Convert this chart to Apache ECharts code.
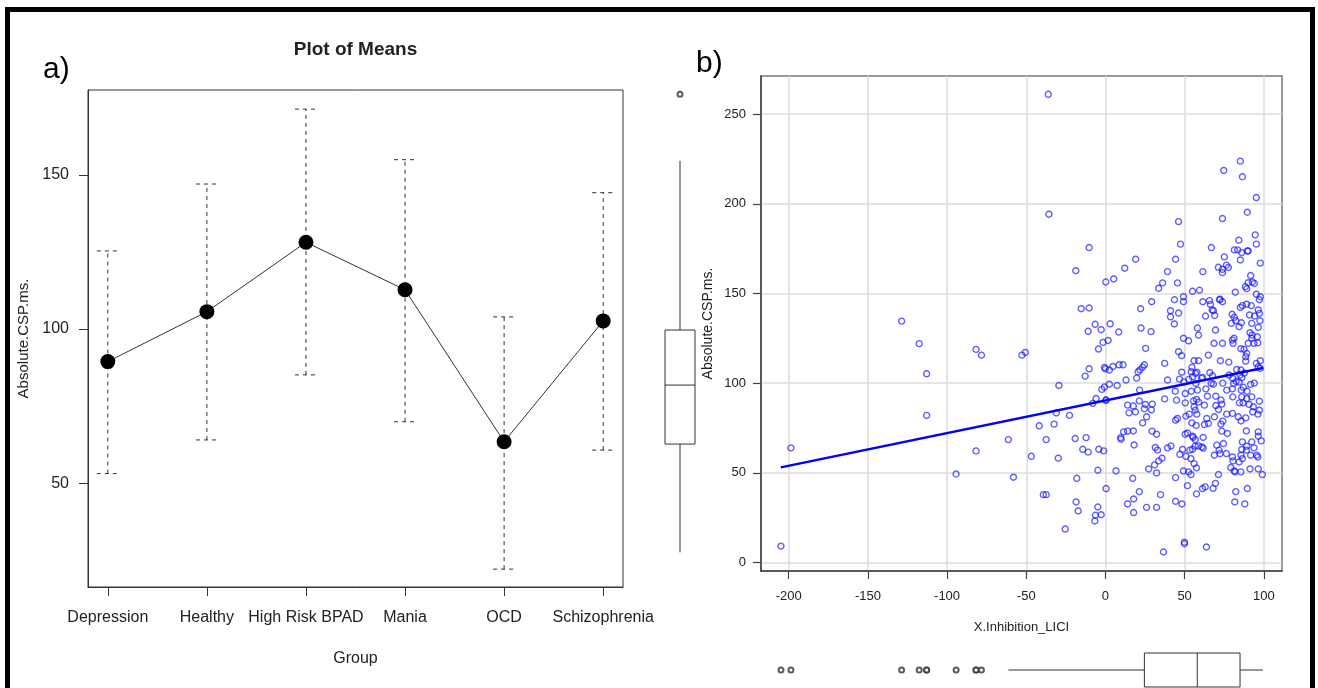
<!DOCTYPE html>
<html>
<head>
<meta charset="utf-8">
<script src="https://cdn.jsdelivr.net/npm/echarts@6/dist/echarts.min.js"></script>
<style>
  html, body { margin: 0; padding: 0; background: #fff; }
  #chart { width: 1318px; height: 688px; }
</style>
</head>
<body>
<div id="chart"></div>
<script>
// ---- a) Plot of means: group means with their interval bounds ----
const groups = ['Depression', 'Healthy', 'High Risk BPAD', 'Mania', 'OCD', 'Schizophrenia'];
const groupMeans = [89.4, 105.6, 128.1, 112.7, 63.4, 102.6];
const groupUpper = [125.3, 147.0, 171.3, 154.9, 103.9, 144.2];
const groupLower = [53.1, 64.0, 85.1, 69.9, 22.1, 60.7];
const meansYTicks = [50, 100, 150];

// ---- b) Scatter of % inhibition (LICI) against absolute CSP (ms) ----
const liciVsCsp = [
  [-128.7,134.6],[-117.6,122],[-112.9,105.2],[-112.9,82],[-81.7,118.8],[-78.3,115.6],[-81.7,62.2],[-94.3,49.3],[-198.6,63.9],[-204.9,9.1],
  [-52.7,115.6],[-50.6,117.1],[-61.3,68.5],[-58.1,47.5],[-46.8,59.2],[-41.8,76.2],[-37.4,68.5],[-32.4,77.1],[-29.8,58.1],[-39.2,37.8],[-37.4,37.8],[-31,83.4],[-29.4,98.7],
  [-36.1,261.1],[-35.7,194.2],[-10.3,175.6],[-18.7,162.7],[19.1,169.1],[12.2,164.1],[0.2,156.4],[5.2,158.1],[-15.3,141.5],[-10.3,141.9],
  [22.2,141.5],[29.2,145.4],[33.6,152.9],[36.1,155.9],[39.2,162.2],[44.3,169.1],[46.2,190.1],[47.4,177.5],[45.5,155.9],[43.6,146.5],
  [49.3,148.2],[49.3,145.4],[41.1,140.4],[41.1,137],[46.2,139.1],[55,151.2],[59.4,151.8],[61.5,162.2],[66.9,175.6],[73.9,191.8],
  [74.7,218.6],[85.2,223.8],[86.5,215.1],[95.3,203.5],[89.6,195.3],[94.6,182.7],[95.3,177.5],[84.2,179.7],[81.4,174.3],[83.5,174.3],
  [89.6,173.7],[90.2,173.7],[86,172.8],[75.1,170.4],[85.2,168.7],[97.8,166.9],[71.3,164.6],[73.9,163.5],[73.9,161.6],[76.4,165.8],
  [77.6,164.5],[61.5,145.4],[65.7,146],[66.3,143.9],[67.4,140.8],[68.2,140.4],[72,146.5],[72.4,146.8],[73.9,145.4],[63.2,137.4],
  [69,137.8],[82,150.7],[91.7,160],[88.4,153.8],[89.2,152.7],[90.2,156],[92.8,156.4],[94,155.6],[95.3,149.6],[97.8,148.2],
  [97.2,146.5],[85.2,142.2],[86.5,143.2],[89.2,144],[92.1,143.2],[96.5,140.8],[91,138],[94.2,137.4],[97.2,138.9],[80,138.4],[81.4,136.7],
  [-6.5,132.8],[3,133.1],[-10.9,128.9],[-2.7,129.8],[8.4,128.5],[-1.5,122.7],[1.7,123.8],[-4.4,119],[-10.3,108],[-12.8,103.9],
  [-0.6,108.8],[0,108],[2.5,107.3],[4.8,109.3],[8.6,110.2],[11.1,110.2],[-2.3,96.5],[-0.6,97.8],[2.5,99.4],[-5.9,91.4],
  [-8,88.7],[0.4,90.7],[0.2,90.3],[-22.7,82],[7.4,98.7],[13,101.7],[19.7,102.8],[20.6,106.3],[21.8,107.4],[23.5,108.9],
  [24.6,110.2],[21.6,96.1],[14,87.7],[17.6,87.2],[21.4,90.1],[25.2,88.1],[14.9,83.4],[18.9,84],[24.6,85.7],[29,85.1],
  [29.6,88.3],[26,81.2],[23.5,77.8],[37.4,91.2],[39.2,101.7],[37.4,111],[28.8,128.7],[22.5,130.7],[25.4,119.4],[43.5,133],
  [49.3,125],[52.5,123.6],[48.1,115.3],[46.2,117.5],[56,112.5],[58.8,112.5],[54.6,108.8],[54.2,106.3],[56.9,105.4],[55,103.5],
  [57.7,106.1],[48.2,106.1],[46.8,102.2],[49.5,100.7],[52.7,102.1],[57.1,99.8],[60.7,102.8],[44.1,95.5],[50.4,94.2],[54.2,95.5],
  [58.1,96.1],[63.4,96.8],[50.4,89],[44.9,90.5],[55.6,90.1],[57.5,90.9],[58.8,89.4],[56,86.8],[62.5,87.7],[64.4,92.7],
  [45.5,80.3],[44.3,79.3],[50.8,81.6],[52.9,82.7],[57.7,82.7],[54.6,77.8],[62.5,76.9],[64,80.3],[56.7,84.9],[65,115.6],
  [68.6,122.2],[73.9,122.2],[72.6,112.5],[77.9,111.7],[69.5,129.6],[58.8,126.8],[58.1,130.7],[65.9,105.8],[67.6,104.1],[61.3,103.2],
  [68.2,99.4],[66.8,99.8],[74.1,100],[76.6,96.1],[69.7,92.7],[73,90.5],[73.5,88.3],[69.7,87.5],[71.4,85.3],[68.8,81.2],
  [76.6,82.7],[74.1,78.8],[72.9,77.1],[80.2,96.8],[82.5,100.9],[80.4,102.6],[81,99.8],[85,104.5],[86.1,103],[85.6,107.3],
  [87.7,105.6],[84.4,100.6],[87.1,97.6],[85.8,96.1],[82.9,107.6],[78.1,104.5],[91.7,99.3],[94,100],[89.4,95.5],[92.4,92.3],
  [97.2,89.9],[93.4,86.8],[89.2,91.4],[86.1,92.3],[86.9,89],[90.7,88.1],[80.4,92.3],[84.6,89],[80.2,83.1],[83.9,81.2],
  [85.6,78.9],[93,84],[96.3,82.7],[97.2,84.9],[88.6,80.6],[97.8,112.5],[96.5,109.1],[95.3,111],[97.8,108.2],[88.6,112.3],
  [87.5,118.8],[85.5,119.2],[89.2,116.6],[88.6,114.7],[96.2,122.5],[93.8,122.2],[92.4,125],[90.2,122.2],[91.3,128.1],[92.6,126.8],
  [95.9,125.9],[96.5,131.1],[97.6,134.8],[92.4,133.3],[80.2,124],[80.6,122.2],[81.2,125],[84.4,131.5],[85.8,133.7],[79.5,133.3],
  [82.3,134.8],[65,77.5],[57.3,76.4],
  [-19.1,69.1],[-12.2,69.6],[-14.3,63.1],[-10.9,61.5],[-4.2,63.1],[-1.1,62.2],[9.6,69.6],[9.9,68.7],[11.5,72.8],[14,73.2],
  [17.6,73.3],[18.1,65.5],[-4.8,51.4],[6.7,51],[-18.1,46.9],[0.4,41.2],[-18.5,33.7],[-17.2,28.7],[-4.8,30.9],[-6.3,26.3],
  [-6.7,23.1],[-2.7,26.6],[-25.4,18.6],[17.2,46.9],[21.4,39.5],[17.8,35.4],[14,32.6],[17.8,27.8],[26,30.7],[32.3,30.7],
  [34.8,37.8],[27.3,52.1],[32.3,49.9],[31,54.4],[33.6,56.6],[35.7,58.1],[31.5,64.1],[32.9,62.6],[39.2,63.9],[41.4,65],
  [29.4,73.2],[32.3,71.5],[44.3,47.3],[44.3,34.1],[48.3,32.6],[36.7,5.8],[49.9,11.3],[49.9,10.4],[63.8,8.6],[51.8,42.8],
  [57.5,38.2],[49.3,51],[52.5,50.5],[54,49],[50.8,59.2],[54,57.9],[56,55.1],[57.5,52.7],[55,63.1],[56.7,64.8],
  [58.8,65],[60.9,64.4],[61.7,63.7],[53.3,62.6],[48.7,63],[47,60.3],[50.4,71.5],[51.8,72.2],[55.4,69.7],[56.7,68.5],
  [55,70.4],[61.7,69.7],[61.3,41.2],[63,42.1],[68,41.3],[69.5,44.1],[71.4,49],[70.3,65.4],[72.4,60.7],[74.5,66.3],
  [71.8,62.6],[76.4,60.7],[68.8,59.8],[73.5,73.2],[77,71.9],[79.2,52.9],[81.9,50.5],[81.3,51],[85.5,50.5],[80.2,58.8],
  [80.6,56.6],[84.4,56],[86.5,57.9],[86.1,63],[89,62.6],[92.4,67.2],[86.5,67.2],[89.2,64.8],[93.8,63.9],[85.6,59.8],
  [91.7,59.8],[96.2,58.8],[95.5,59.8],[89,73.3],[96.5,70.4],[96.5,72.8],[98.4,67.8],[91.3,52.1],[96.5,52.1],[99.1,49],
  [89.6,41.2],[82.3,39.5],[81.7,33.7],[88,32.6]
];
// least-squares line, drawn between its two end points
const fitLineX = [-205, 99.5];
const fitLineY = [53.0, 108.4];
// marginal boxplots: [lower whisker, Q1, median, Q3, upper whisker]
const cspBox = [5.6, 66.0, 98.9, 129.6, 224.0];
const cspOutliers = [261.1];
const liciBox = [-61.3, 24.6, 58.0, 85.0, 99.5];
const liciOutliers = [-204.9, -198.6, -128.7, -117.6, -112.9, -112.9, -94.3, -81.7, -81.7, -78.3];
const scatterXTicks = [-200, -150, -100, -50, 0, 50, 100];
const scatterYTicks = [0, 50, 100, 150, 200, 250];

const FONT = "'Liberation Sans', Arial, sans-serif";
const INK = '#222';

const chart = echarts.init(document.getElementById('chart'), null, { renderer: 'canvas' });

function errorBarItem(params, api) {
  const x = api.value(0);
  const lo = api.coord([x, api.value(1)]);
  const hi = api.coord([x, api.value(2)]);
  const cap = 11;
  const st = { stroke: '#333', lineWidth: 1, lineDash: [4, 4] };
  return {
    type: 'group',
    children: [
      { type: 'line', shape: { x1: lo[0], y1: lo[1], x2: hi[0], y2: hi[1] }, style: st },
      { type: 'line', shape: { x1: hi[0] - cap, y1: hi[1], x2: hi[0] + cap, y2: hi[1] }, style: st },
      { type: 'line', shape: { x1: lo[0] - cap, y1: lo[1], x2: lo[0] + cap, y2: lo[1] }, style: st }
    ]
  };
}

function boxItem(horizontal) {
  return function (params, api) {
    const c = api.value(0);
    const at = v => horizontal ? api.coord([v, c]) : api.coord([c, v]);
    const pMin = at(api.value(1)), pQ1 = at(api.value(2)), pMed = at(api.value(3)),
          pQ3 = at(api.value(4)), pMax = at(api.value(5));
    const hw = horizontal ? 17 : 15;
    const st = { stroke: '#333', lineWidth: 1 };
    if (!horizontal) {
      const x = pMed[0];
      return { type: 'group', children: [
        { type: 'line', shape: { x1: x, y1: pMin[1], x2: x, y2: pQ1[1] }, style: st },
        { type: 'line', shape: { x1: x, y1: pQ3[1], x2: x, y2: pMax[1] }, style: st },
        { type: 'rect', shape: { x: x - hw, y: pQ3[1], width: 2 * hw, height: pQ1[1] - pQ3[1] }, style: { fill: '#fff', stroke: '#333', lineWidth: 1 } },
        { type: 'line', shape: { x1: x - hw, y1: pMed[1], x2: x + hw, y2: pMed[1] }, style: st }
      ]};
    }
    const y = pMed[1];
    return { type: 'group', children: [
      { type: 'line', shape: { x1: pMin[0], y1: y, x2: pQ1[0], y2: y }, style: st },
      { type: 'line', shape: { x1: pQ3[0], y1: y, x2: pMax[0], y2: y }, style: st },
      { type: 'rect', shape: { x: pQ1[0], y: y - hw, width: pQ3[0] - pQ1[0], height: 2 * hw }, style: { fill: '#fff', stroke: '#333', lineWidth: 1 } },
      { type: 'line', shape: { x1: pMed[0], y1: y - hw, x2: pMed[0], y2: y + hw }, style: st }
    ]};
  };
}

const groupPositions = groups.map((g, i) => i + 1);
const scatterXRange = { min: -217.5, max: 111.5 };
const scatterYRange = { min: -4.8, max: 271.3 };

const option = {
  animation: false,
  backgroundColor: '#fff',
  grid: [
    { left: 88, top: 90, width: 535, height: 497, show: true, borderColor: '#333', borderWidth: 1, backgroundColor: 'transparent' },
    { left: 761, top: 76, width: 521, height: 495, show: true, borderColor: '#777', borderWidth: 1.5, backgroundColor: 'transparent' },
    { left: 660, top: 76, width: 40, height: 495 },
    { left: 761, top: 652, width: 521, height: 40 }
  ],
  xAxis: [
    {
      gridIndex: 0, type: 'value', min: 0.8, max: 6.2,
      axisLine: { show: true, lineStyle: { color: '#333', width: 1 } },
      axisTick: { show: true, customValues: groupPositions, length: 9, lineStyle: { color: '#333' } },
      axisLabel: { customValues: groupPositions, formatter: v => groups[Math.round(v) - 1], margin: 23,
                   fontFamily: FONT, fontSize: 16, color: INK },
      splitLine: { show: false },
      name: 'Group', nameLocation: 'middle', nameGap: 64,
      nameTextStyle: { fontFamily: FONT, fontSize: 16, color: INK }
    },
    {
      gridIndex: 1, type: 'value', min: scatterXRange.min, max: scatterXRange.max,
      axisLine: { show: true, onZero: false, lineStyle: { color: '#444', width: 1.5 } },
      axisTick: { show: true, customValues: scatterXTicks, length: 8, lineStyle: { color: '#444', width: 1.2 } },
      axisLabel: { customValues: scatterXTicks, margin: 19, fontFamily: FONT, fontSize: 13, color: INK },
      splitLine: { show: true, lineStyle: { color: '#dcdcdc', width: 1.5 } },
      name: 'X.Inhibition_LICI', nameLocation: 'middle', nameGap: 50,
      nameTextStyle: { fontFamily: FONT, fontSize: 13, color: INK }
    },
    { gridIndex: 2, type: 'value', min: -1, max: 1, show: false },
    { gridIndex: 3, type: 'value', min: scatterXRange.min, max: scatterXRange.max, show: false }
  ],
  yAxis: [
    {
      gridIndex: 0, type: 'value', min: 16.3, max: 177.5,
      axisLine: { show: true, lineStyle: { color: '#333', width: 1 } },
      axisTick: { show: true, customValues: meansYTicks, length: 9, lineStyle: { color: '#333' } },
      axisLabel: { customValues: meansYTicks, margin: 19, fontFamily: FONT, fontSize: 16, color: INK },
      splitLine: { show: false },
      name: 'Absolute.CSP.ms.', nameLocation: 'middle', nameGap: 57,
      nameTextStyle: { fontFamily: FONT, fontSize: 15, color: INK }
    },
    {
      gridIndex: 1, type: 'value', min: scatterYRange.min, max: scatterYRange.max,
      axisLine: { show: true, onZero: false, lineStyle: { color: '#444', width: 1.5 } },
      axisTick: { show: true, customValues: scatterYTicks, length: 8, lineStyle: { color: '#444', width: 1.2 } },
      axisLabel: { customValues: scatterYTicks, margin: 15, fontFamily: FONT, fontSize: 13, color: INK },
      splitLine: { show: true, lineStyle: { color: '#dcdcdc', width: 1.5 } },
      name: 'Absolute.CSP.ms.', nameLocation: 'middle', nameGap: 46,
      nameTextStyle: { fontFamily: FONT, fontSize: 14, color: INK }
    },
    { gridIndex: 2, type: 'value', min: scatterYRange.min, max: scatterYRange.max, show: false },
    { gridIndex: 3, type: 'value', min: -1, max: 1, show: false }
  ],
  series: [
    {
      type: 'custom', xAxisIndex: 0, yAxisIndex: 0,
      renderItem: errorBarItem,
      data: groups.map((g, i) => [i + 1, groupLower[i], groupUpper[i]]),
      z: 2
    },
    {
      type: 'line', xAxisIndex: 0, yAxisIndex: 0,
      data: groupMeans.map((m, i) => [i + 1, m]),
      symbol: 'circle', symbolSize: 15,
      itemStyle: { color: '#000' },
      lineStyle: { color: '#333', width: 1 },
      z: 3
    },
    {
      type: 'scatter', xAxisIndex: 1, yAxisIndex: 1,
      data: liciVsCsp,
      symbol: 'circle', symbolSize: 6,
      itemStyle: { color: 'rgba(0,0,0,0)', borderColor: 'rgba(20,20,255,0.85)', borderWidth: 1.4 },
      z: 3
    },
    {
      type: 'line', xAxisIndex: 1, yAxisIndex: 1,
      data: fitLineX.map((x, i) => [x, fitLineY[i]]),
      symbol: 'none',
      lineStyle: { color: '#0000ff', width: 2.5 },
      z: 4
    },
    {
      type: 'custom', xAxisIndex: 2, yAxisIndex: 2,
      renderItem: boxItem(false),
      data: [[0].concat(cspBox)]
    },
    {
      type: 'scatter', xAxisIndex: 2, yAxisIndex: 2,
      data: cspOutliers.map(v => [0, v]),
      symbol: 'emptyCircle', symbolSize: 5,
      itemStyle: { color: '#333', borderWidth: 1 }
    },
    {
      type: 'custom', xAxisIndex: 3, yAxisIndex: 3,
      renderItem: boxItem(true),
      data: [[0].concat(liciBox)]
    },
    {
      type: 'scatter', xAxisIndex: 3, yAxisIndex: 3,
      data: liciOutliers.map(v => [v, 0]),
      symbol: 'emptyCircle', symbolSize: 5,
      itemStyle: { color: '#333', borderWidth: 1 }
    }
  ],
  graphic: [
    {
      type: 'rect', silent: true, z: 100,
      shape: { x: 7.5, y: 9.5, width: 1305, height: 700 },
      style: { fill: 'none', stroke: '#000', lineWidth: 5 }
    },
    {
      type: 'text', silent: true,
      style: { x: 355.5, y: 50, text: 'Plot of Means', fontFamily: FONT, fontWeight: 'bold', fontSize: 19,
               fill: INK, align: 'center', verticalAlign: 'middle' }
    },
    {
      type: 'text', silent: true,
      style: { x: 43, y: 70, text: 'a)', fontFamily: FONT, fontSize: 30, fill: '#000', align: 'left', verticalAlign: 'middle' }
    },
    {
      type: 'text', silent: true,
      style: { x: 696, y: 64, text: 'b)', fontFamily: FONT, fontSize: 30, fill: '#000', align: 'left', verticalAlign: 'middle' }
    }
  ]
};

chart.setOption(option);
</script>
</body>
</html>
